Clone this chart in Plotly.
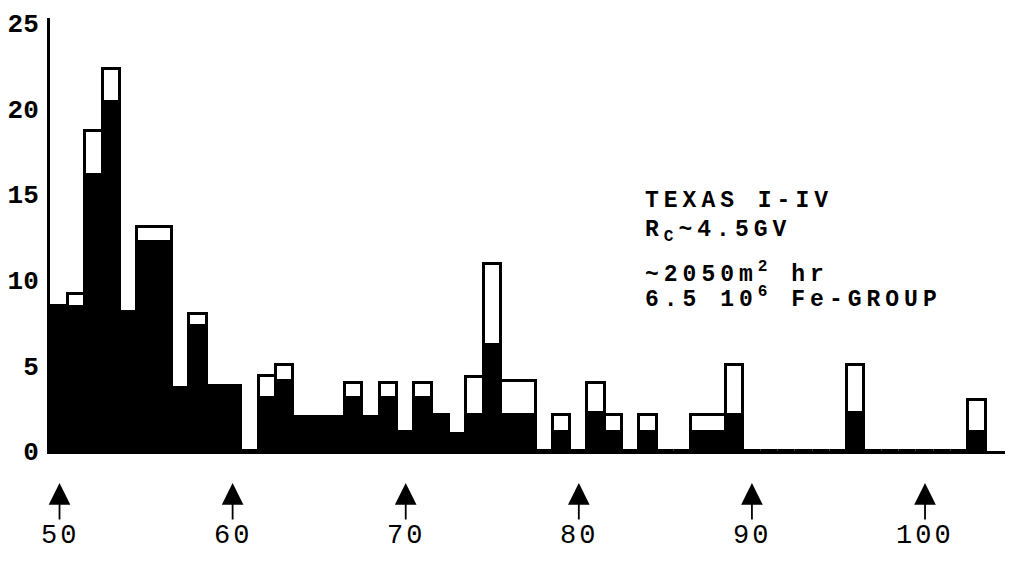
import plotly.graph_objects as go

# Charge Z of each histogram bin (unit bins centred on integers)
charge = list(range(50, 104))

# Number of events per bin: filled (black) part and open (white) part
filled = [8.5, 8.4, 16.1, 20.4, 8.1, 12.2, 12.2, 3.7, 7.3, 3.8, 3.8, 0,
          3.1, 4.1, 2.0, 2.0, 2.0, 3.1, 2.0, 3.1, 1.1, 3.1, 2.1, 1.0, 2.1, 6.2, 2.1, 2.1, 0,
          1.1, 0, 2.2, 1.1, 0, 1.1, 0, 0, 1.1, 1.1, 2.1,
          0, 0, 0, 0, 0, 0, 2.2, 0, 0, 0, 0, 0, 0, 1.1]
open_part = [0, 0.8, 2.6, 1.9, 0, 0.9, 0.9, 0, 0.7, 0, 0, 0,
             1.3, 0.9, 0, 0, 0, 0.9, 0, 0.9, 0, 0.9, 0, 0, 2.2, 4.7, 2.0, 2.0, 0,
             1.0, 0, 1.8, 1.0, 0, 1.0, 0, 0, 1.0, 1.0, 2.9,
             0, 0, 0, 0, 0, 0, 2.8, 0, 0, 0, 0, 0, 0, 1.9]

y_ticks = [0, 5, 10, 15, 20, 25]
x_ticks = [50, 60, 70, 80, 90, 100]

info_lines = [
    "TEXAS I-IV",
    "R<sub>C</sub>~4.5GV",
    "~2050m<sup>2</sup> hr",
    "6.5 10<sup>6</sup> Fe-GROUP",
]

MONO = "Liberation Mono"


def spaced(text, px):
    return f'<span style="letter-spacing:{px}px">{text}</span>'


# Open parts: neighbouring bins with identical counts are drawn as one box
open_x, open_w, open_base, open_h = [], [], [], []
i = 0
while i < len(charge):
    if open_part[i] > 0:
        j = i
        while (j + 1 < len(charge) and open_part[j + 1] == open_part[i]
               and filled[j + 1] == filled[i]):
            j += 1
        open_x.append((charge[i] + charge[j]) / 2)
        open_w.append(j - i + 1)
        open_base.append(filled[i])
        open_h.append(open_part[i])
        i = j + 1
    else:
        i += 1

fig = go.Figure()
fig.add_trace(go.Bar(
    x=charge, y=filled, width=1.0,
    marker=dict(color="black", line=dict(color="black", width=3)),
    hoverinfo="skip", showlegend=False,
))
fig.add_trace(go.Bar(
    x=open_x, y=open_h, base=open_base, width=open_w,
    marker=dict(color="white", line=dict(color="black", width=3)),
    hoverinfo="skip", showlegend=False,
))

# charge labels below the axis, each with an arrow pointing up at its value
annotations = []
for z in x_ticks:
    annotations.append(dict(
        x=z, xref="x", y=-0.074, yref="paper",
        ax=0, ay=53, axref="pixel", ayref="pixel",
        text=spaced(str(z), 3), showarrow=True,
        arrowhead=2, arrowsize=2.4, arrowwidth=1.8, arrowcolor="black",
        font=dict(family=MONO, size=27, color="black"),
    ))

# info block on the right
line_y = [0.578, 0.508, 0.411, 0.353]
for txt, yy in zip(info_lines, line_y):
    annotations.append(dict(
        x=0.621, xref="paper", y=yy, yref="paper",
        xanchor="left", yanchor="middle", showarrow=False,
        text=spaced(txt, 5),
        font=dict(family=MONO, size=23, color="black", weight="bold"),
    ))

fig.update_layout(
    width=1009, height=562,
    margin=dict(l=50, r=4, t=18, b=111),
    paper_bgcolor="white", plot_bgcolor="white",
    barmode="overlay", bargap=0,
    annotations=annotations,
    xaxis=dict(
        range=[49.45, 104.62], showgrid=False, zeroline=False,
        showline=True, linecolor="black", linewidth=3,
        tickmode="array", tickvals=[], ticks="", showticklabels=False,
    ),
    yaxis=dict(
        range=[0, 25.3], showgrid=False, zeroline=False,
        showline=True, linecolor="black", linewidth=3,
        tickmode="array", tickvals=y_ticks,
        ticktext=[f"<b>{t}</b>" for t in y_ticks],
        ticks="", ticklabelstandoff=3,
        tickfont=dict(family=MONO, size=26, color="black"),
    ),
)

fig.write_html("out.html")
